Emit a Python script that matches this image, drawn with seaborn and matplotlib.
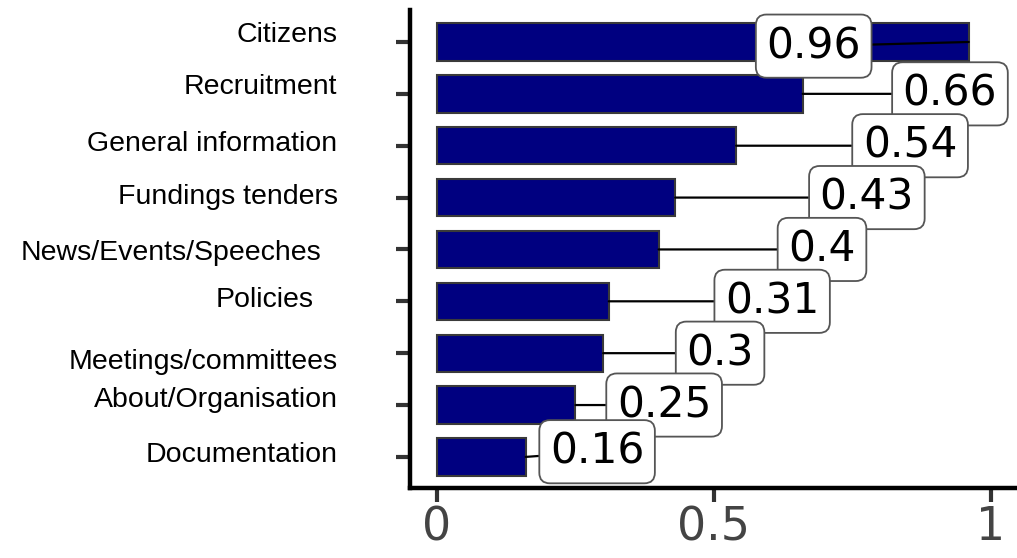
import matplotlib
matplotlib.use('Agg')
import matplotlib.pyplot as plt
import seaborn as sns
import pandas as pd

# categories / values (top to bottom)
categories = ['Citizens', 'Recruitment', 'General information', 'Fundings tenders',
              'News/Events/Speeches', 'Policies', 'Meetings/committees',
              'About/Organisation', 'Documentation']
values = [0.96, 0.66, 0.54, 0.43, 0.4, 0.31, 0.3, 0.25, 0.16]
x_ticks = [0, 0.5, 1]
x_tick_labels = ['0', '0.5', '1']

# layout of the value boxes (adjustText-like placement) and of the y labels
box_x = [0.680, 0.926, 0.854, 0.776, 0.695, 0.605, 0.511, 0.410, 0.289]
box_dy = [0.08, 0.0, 0.0, 0.0, 0.0, 0.0, 0.0, 0.0, -0.1]
label_x = [-0.119, -0.119, -0.119, -0.119, -0.145, -0.158, -0.119, -0.119, -0.119]
label_dy = [-0.13, -0.13, -0.03, -0.02, 0.06, -0.02, 0.17, -0.1, -0.04]

df = pd.DataFrame({'category': categories, 'value': values})

sns.set_style('white')
fig = plt.figure(figsize=(10.17, 5.58), dpi=100)
ax = fig.add_axes([0.403, 0.1254, 0.597, 0.857])

sns.barplot(data=df, y='category', x='value', orient='h', color='#000080',
            saturation=1, width=0.72, edgecolor='#3a3a3a', linewidth=1.5, ax=ax)

ax.set_xlim(-0.049, 1.047)
ax.set_ylim(8.6, -0.62)
ax.set_xlabel('')
ax.set_ylabel('')

for sp in ['top', 'right']:
    ax.spines[sp].set_visible(False)
for sp in ['left', 'bottom']:
    ax.spines[sp].set_color('black')
    ax.spines[sp].set_linewidth(3.2)

ax.set_xticks(x_ticks)
ax.set_xticklabels(x_tick_labels, fontsize=33, color='#444444',
                   family='DejaVu Sans')
ax.set_yticks(range(len(categories)))
ax.set_yticklabels([''] * len(categories))
ax.tick_params(axis='both', length=10, width=3, color='#333333', direction='out',
               left=True, bottom=True)
ax.tick_params(axis='x', pad=2.5)

ytrans = ax.get_yaxis_transform()
for i, name in enumerate(categories):
    ax.text(label_x[i], i + label_dy[i], name, transform=ytrans, ha='right',
            va='center', fontsize=20.5, family='Liberation Sans', color='black')

for i, v in enumerate(values):
    ax.annotate(str(v), xy=(v, i), xytext=(box_x[i], i + box_dy[i]),
                ha='center', va='center', fontsize=30.5, family='DejaVu Sans',
                color='black',
                bbox=dict(boxstyle='round,pad=0.25', fc='white', ec='#555555', lw=1.3),
                arrowprops=dict(arrowstyle='-', color='black', lw=1.6,
                                shrinkA=0, shrinkB=0))

fig.savefig('out.png', dpi=100)
